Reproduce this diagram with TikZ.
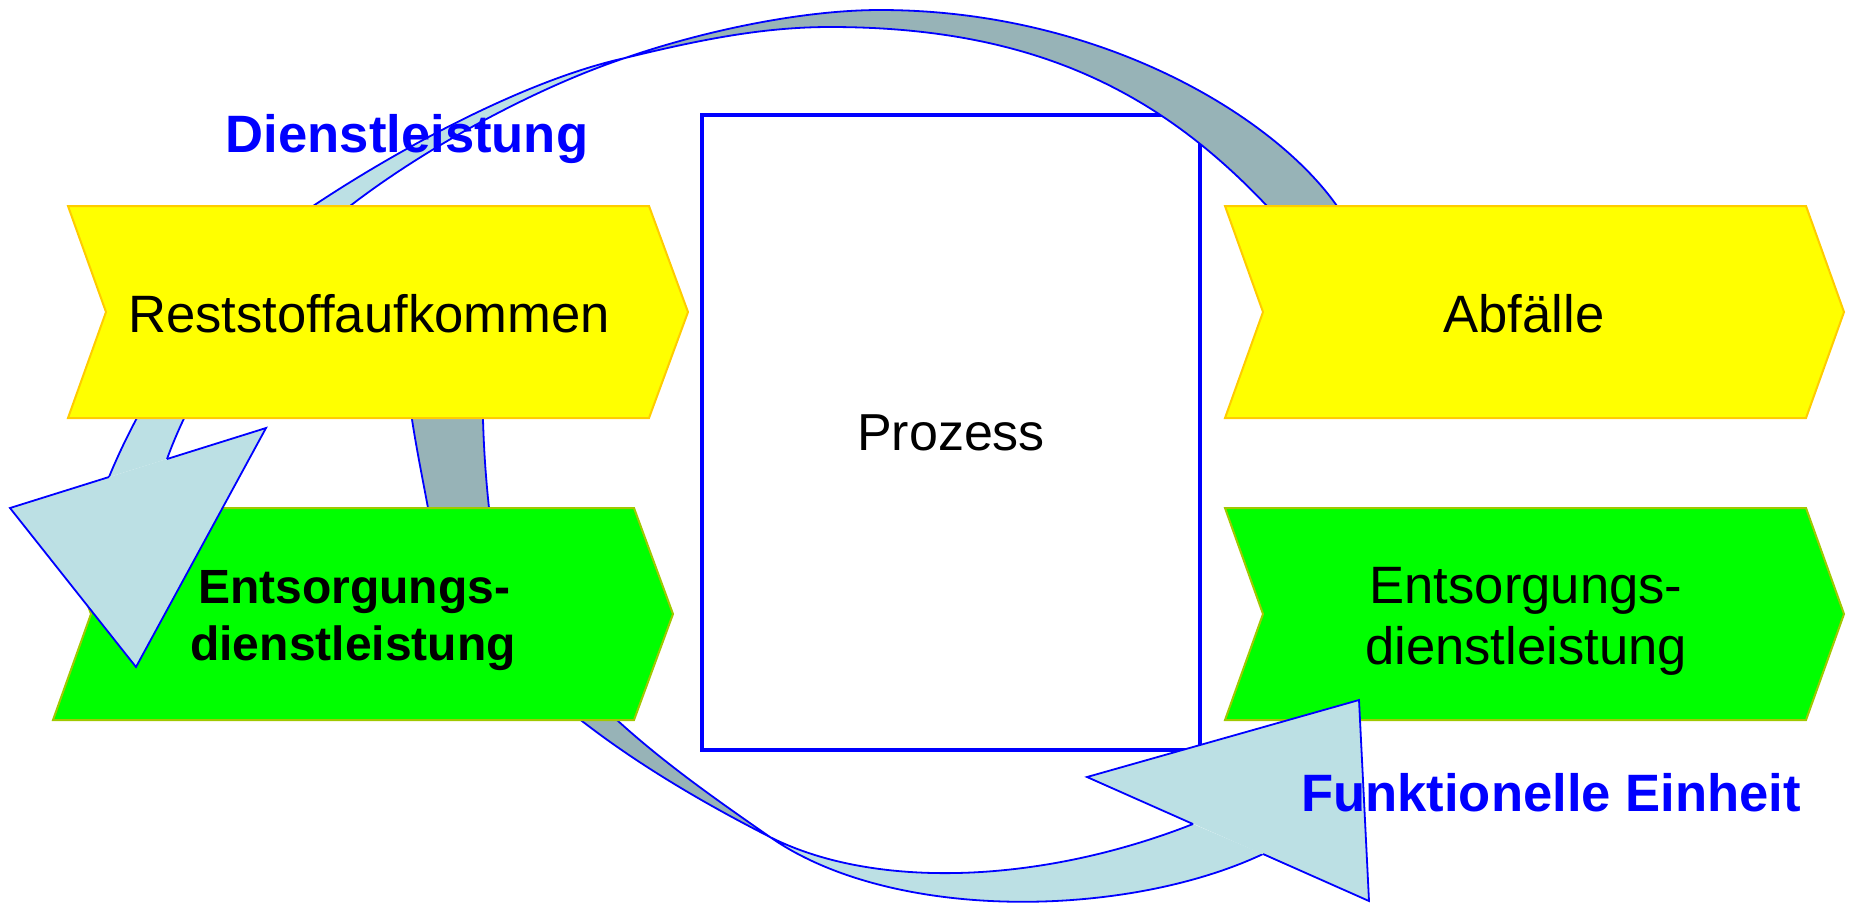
\documentclass[tikz,border=0pt]{standalone}
\usepackage{fontspec}
\setmainfont{Liberation Sans}
\definecolor{bandgray}{RGB}{151,179,183}
\definecolor{bandlight}{RGB}{188,224,228}
\definecolor{chevyellow}{RGB}{255,255,0}
\definecolor{chevyellowline}{RGB}{255,204,0}
\definecolor{chevgreen}{RGB}{0,255,0}
\definecolor{chevgreenline}{RGB}{160,200,0}
\definecolor{arrowline}{RGB}{0,0,255}
\begin{document}
\begin{tikzpicture}[x=0.5pt,y=-0.5pt,
  bandback/.style={fill=bandgray, draw=arrowline, line width=0.9pt, line join=round},
  bandfront/.style={fill=bandlight, draw=arrowline, line width=0.9pt, line join=round},
  headfill/.style={fill=bandlight},
  headline/.style={draw=arrowline, line width=0.9pt, line join=miter},
  yellowchev/.style={fill=chevyellow, draw=chevyellowline, line width=1pt},
  greenchev/.style={fill=chevgreen, draw=chevgreenline, line width=1pt},
  lbl/.style={anchor=base, inner sep=0pt, font=\fontsize{26.3}{30}\selectfont},
  boldlbl/.style={anchor=base, inner sep=0pt, font=\fontsize{24}{28}\selectfont\bfseries},
  bluelbl/.style={anchor=base, inner sep=0pt, text=arrowline, font=\fontsize{26.3}{30}\selectfont\bfseries},
  procbox/.style={draw=arrowline, line width=2pt, fill=white, minimum width=249pt, minimum height=317.5pt, inner sep=0pt, font=\fontsize{26}{30}\selectfont}
]
\useasboundingbox (0,0) rectangle (1851,902);

% process box
\node[procbox] (prozess) at (951,432.5) {Prozess};

% arrow 1 : back face (gray) over the top
\filldraw[bandback]
  (1365,247) -- (1337,206)
  .. controls (1274,116) and (1100,10) .. (880,10)
  .. controls (800,10) and (700,32) .. (625,58)
  .. controls (695,41) and (760,27) .. (830,27)
  .. controls (1030,27) and (1157,89.5) .. (1267,206)
  -- (1301,242);

% arrow 1 : front face (light) down the left side
\coordinate (e1) at (109,477);
\coordinate (d1) at (167,459);
\filldraw[bandfront]
  (e1) .. controls (147,384) and (229,260) .. (313,206)
  .. controls (397,150) and (525,80) .. (625,58)
  .. controls (535,88) and (425,148) .. (350,206)
  .. controls (278.5,260.5) and (201,365) .. (d1);

% arrow 2 : back face (gray) down the left side
\filldraw[bandback]
  (404,340) .. controls (406,400) and (419,459) .. (428,508)
  .. controls (454.6,655.6) and (636.4,768.9) .. (770,837)
  .. controls (663.4,762.6) and (507,656.5) .. (489,508)
  .. controls (485,470) and (481,420) .. (483,340);

% arrow 2 : front face (light) along the bottom
\coordinate (e2) at (1193,824);
\coordinate (d2) at (1263,854);
\filldraw[bandfront]
  (e2) .. controls (1044,882.6) and (877,891) .. (770,837)
  .. controls (893,922.8) and (1127,918) .. (d2);

% chevrons
\filldraw[yellowchev] (68,206) -- (649,206) -- (688,312) -- (649,418) -- (68,418) -- (106,312) -- cycle;
\filldraw[yellowchev] (1225,206) -- (1806,206) -- (1844,312) -- (1806,418) -- (1225,418) -- (1263,312) -- cycle;
\filldraw[greenchev] (53,508) -- (634,508) -- (673,614) -- (634,720) -- (53,720) -- (91,614) -- cycle;
\filldraw[greenchev] (1225,508) -- (1806,508) -- (1844,614) -- (1806,720) -- (1225,720) -- (1263,614) -- cycle;

% arrowheads
\coordinate (a1) at (10,508);
\coordinate (b1) at (136,667);
\coordinate (c1) at (266,428);
\fill[headfill] (a1) -- (b1) -- (c1) -- cycle;
\draw[headline] (e1) -- (a1) -- (b1) -- (c1) -- (d1);

\coordinate (a2) at (1087,777);
\coordinate (b2) at (1359,700);
\coordinate (c2) at (1369,901);
\fill[headfill] (a2) -- (b2) -- (c2) -- cycle;
\draw[headline] (e2) -- (a2) -- (b2) -- (c2) -- (d2);

% labels
\node[bluelbl] (dienst) at (407,152) {Dienstleistung};
\node[lbl] (rest) at (369,332) {Reststoffaufkommen};
\node[lbl] (abf) at (1524,332) {Abfälle};
\node[boldlbl] (entsL1) at (354,603) {Entsorgungs-};
\node[boldlbl] (entsL2) at (353,660) {dienstleistung};
\node[lbl] (entsR1) at (1526,603) {Entsorgungs-};
\node[lbl] (entsR2) at (1526,664) {dienstleistung};
\node[bluelbl] (funk) at (1551,811) {Funktionelle Einheit};
\end{tikzpicture}
\end{document}
